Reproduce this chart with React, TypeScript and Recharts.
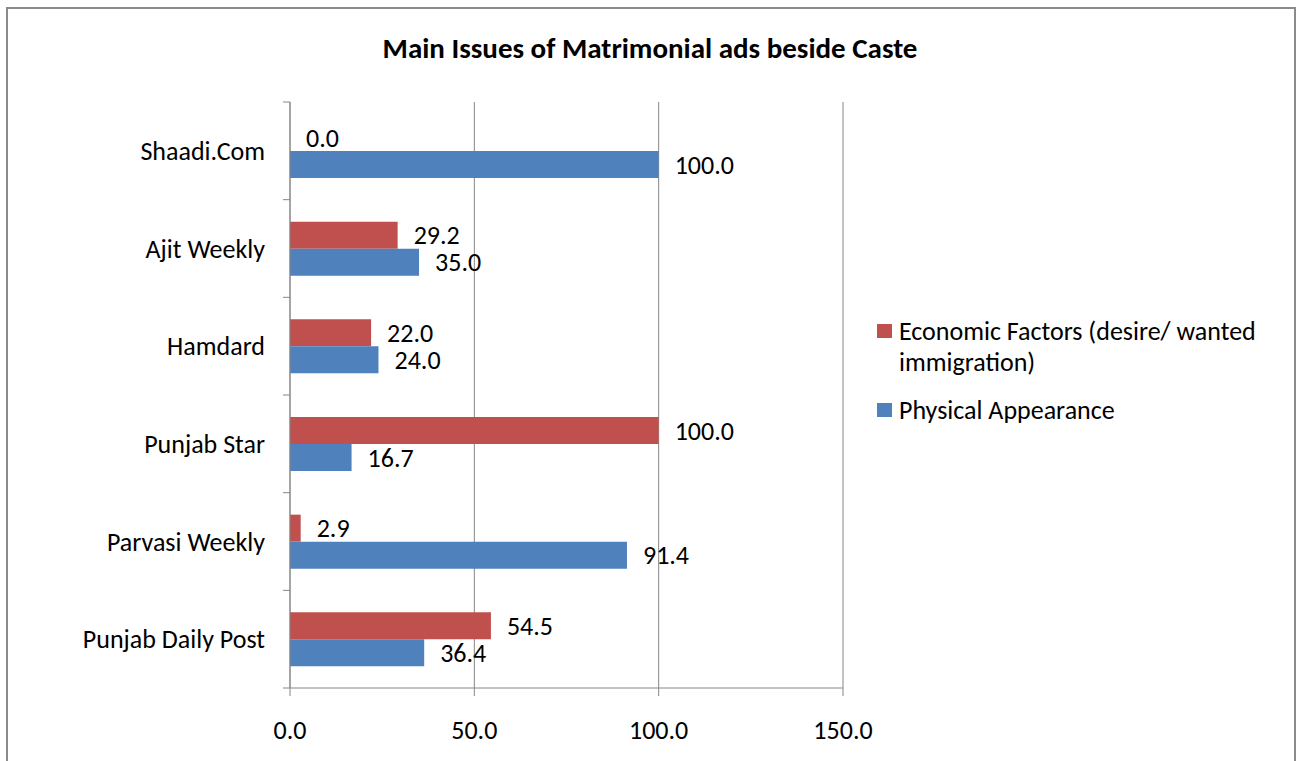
import React from 'react';
import {
  BarChart,
  Bar,
  XAxis,
  YAxis,
  CartesianGrid,
  LabelList,
  Legend,
} from 'recharts';

// 上から順に（Excelと逆順）
const categories = ['Shaadi.Com', 'Ajit Weekly', 'Hamdard', 'Punjab Star', 'Parvasi Weekly', 'Punjab Daily Post'];
const economicFactors = [0.0, 29.2, 22.0, 100.0, 2.9, 54.5];
const physicalAppearance = [100.0, 35.0, 24.0, 16.7, 91.4, 36.4];
const xTicks = [0, 50, 100, 150];

const ECON_NAME = 'Economic Factors (desire/ wanted immigration)';
const PHYS_NAME = 'Physical Appearance';

const RED = '#C0504D';
const BLUE = '#4F81BD';
const GRID = '#868686';
const FONT = 'Calibri, Carlito, Lato, sans-serif';
const FS = 26;

const CHART_W = 1302;
const CHART_H = 761;
const PLOT_TOP = 102;
const PLOT_BOTTOM = 688;
const PLOT_LEFT = 290;
const PLOT_RIGHT = 843;
const Y_TICK_SIZE = 7;
const Y_TICK_MARGIN = 18;

const chartData = categories.map((name, i) => ({
  name,
  economic: economicFactors[i],
  physical: physicalAppearance[i],
}));

const fmt = (v: any) => Number(v).toFixed(1);

// カテゴリ境界に目盛線を描くYAxisのtick
const CategoryTick = (props: any) => {
  const { x, y, payload, index, visibleTicksCount } = props;
  const axisX = x + Y_TICK_SIZE + Y_TICK_MARGIN;
  const band = (PLOT_BOTTOM - PLOT_TOP) / categories.length;
  return (
    <g>
      <line x1={axisX - Y_TICK_SIZE} x2={axisX} y1={y - band / 2} y2={y - band / 2} stroke={GRID} />
      {index === visibleTicksCount - 1 && (
        <line x1={axisX - Y_TICK_SIZE} x2={axisX} y1={y + band / 2} y2={y + band / 2} stroke={GRID} />
      )}
      <text x={x} y={y} dy="0.35em" textAnchor="end" fill="#000" fontSize={FS} fontFamily={FONT}>
        {payload.value}
      </text>
    </g>
  );
};

const LegendContent = (props: any) => {
  const { payload = [] } = props;
  return (
    <div style={{ fontFamily: FONT, fontSize: FS, color: '#000' }}>
      {payload.map((entry: any, i: number) => (
        <div key={`legend-${i}`} style={{ display: 'flex', alignItems: 'flex-start', marginBottom: 17 }}>
          <span
            style={{
              display: 'inline-block',
              width: 15,
              height: 14,
              marginTop: 8,
              marginRight: 7,
              flex: '0 0 auto',
              background: entry.color,
            }}
          />
          <span style={{ lineHeight: '31px', width: 385 }}>{entry.value}</span>
        </div>
      ))}
    </div>
  );
};

const App: React.FC = () => {
  return (
    <div
      style={{
        position: 'absolute',
        left: 0,
        top: 0,
        width: CHART_W,
        height: CHART_H,
        overflow: 'hidden',
        background: '#fff',
      }}
    >
      <div
        style={{
          position: 'absolute',
          left: 6,
          top: 7,
          width: 1290,
          height: 800,
          boxSizing: 'border-box',
          border: '2px solid #8a8a8a',
        }}
      />
      <div
        style={{
          position: 'absolute',
          left: 0,
          top: 30,
          width: 1300,
          textAlign: 'center',
          fontFamily: FONT,
          fontWeight: 'bold',
          fontSize: 29,
          color: '#000',
        }}
      >
        Main Issues of Matrimonial ads beside Caste
      </div>
      <div style={{ position: 'absolute', left: 0, top: 0 }}>
        <BarChart
          width={CHART_W}
          height={CHART_H}
          data={chartData}
          layout="vertical"
          margin={{ top: PLOT_TOP, right: CHART_W - PLOT_RIGHT, bottom: 0, left: 0 }}
          barGap={0}
          barSize={27}
        >
          <CartesianGrid horizontal={false} stroke={GRID} />
          <XAxis
            type="number"
            domain={[0, 150]}
            ticks={xTicks}
            tickFormatter={fmt}
            height={CHART_H - PLOT_BOTTOM}
            stroke={GRID}
            tickSize={8}
            tickMargin={25}
            tick={{ fill: '#000', fontSize: FS, fontFamily: FONT }}
            interval={0}
          />
          <YAxis
            type="category"
            dataKey="name"
            width={PLOT_LEFT}
            stroke={GRID}
            tickLine={false}
            tickSize={Y_TICK_SIZE}
            tickMargin={Y_TICK_MARGIN}
            tick={<CategoryTick />}
            interval={0}
          />
          <Legend
            layout="horizontal"
            align="center"
            verticalAlign="middle"
            content={<LegendContent />}
            wrapperStyle={{ left: 877, top: 316, width: 420, height: 'auto' }}
          />
          <Bar dataKey="economic" name={ECON_NAME} fill={RED} minPointSize={0.01} isAnimationActive={false}>
            <LabelList
              dataKey="economic"
              position="right"
              offset={16}
              formatter={fmt}
              fill="#000"
              fontSize={FS}
              fontFamily={FONT}
            />
          </Bar>
          <Bar dataKey="physical" name={PHYS_NAME} fill={BLUE} isAnimationActive={false}>
            <LabelList
              dataKey="physical"
              position="right"
              offset={16}
              formatter={fmt}
              fill="#000"
              fontSize={FS}
              fontFamily={FONT}
            />
          </Bar>
        </BarChart>
      </div>
    </div>
  );
};

export default App;
